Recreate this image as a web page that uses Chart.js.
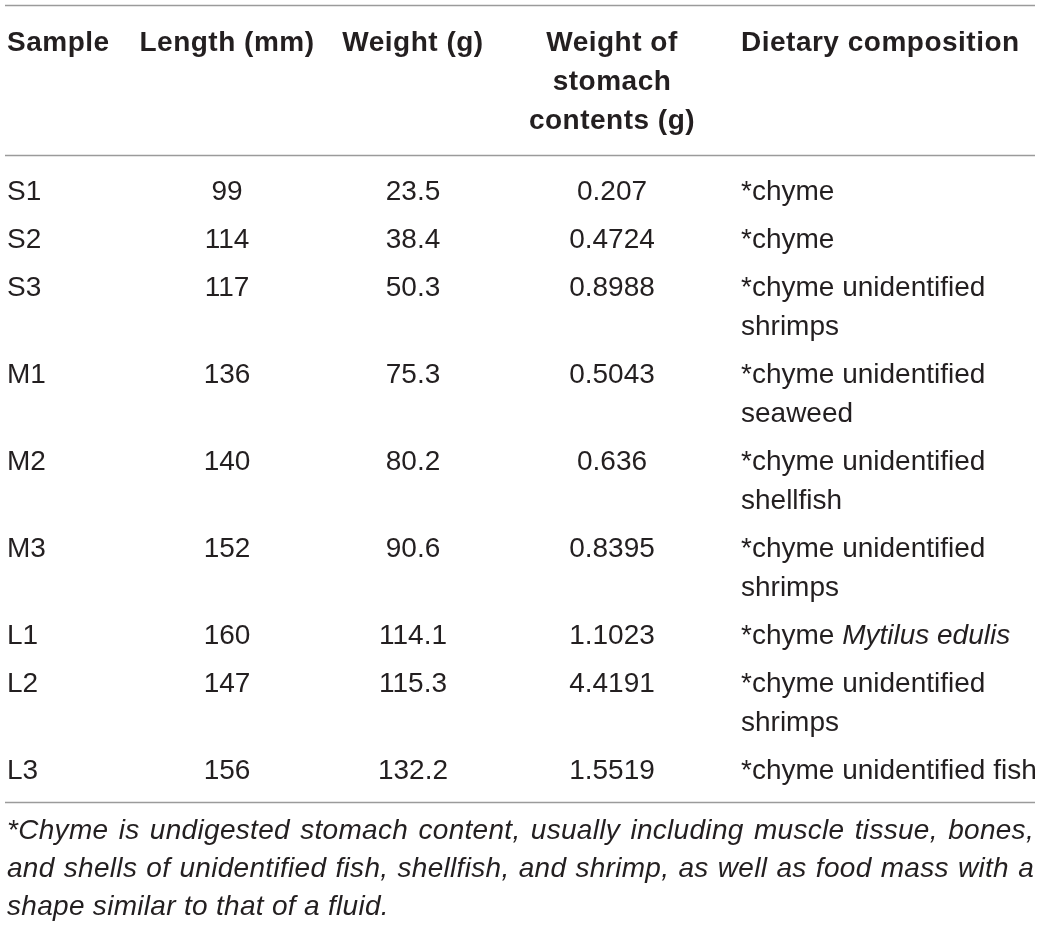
<!DOCTYPE html>
<html>
<head>
<meta charset="utf-8">
<script src="https://cdn.jsdelivr.net/npm/chart.js@4/dist/chart.umd.min.js"></script>
<style>
html,body{margin:0;padding:0;background:#fff;}
#wrap{width:1040px;height:926px;}
</style>
</head>
<body>
<div id="wrap"><canvas id="c" width="1040" height="926"></canvas></div>
<script>
// ---- DATA ----
const headers = [["Sample"], ["Length (mm)"], ["Weight (g)"], ["Weight of", "stomach", "contents (g)"], ["Dietary composition"]];
const samples = ["S1", "S2", "S3", "M1", "M2", "M3", "L1", "L2", "L3"];
const lengthsMm = [99, 114, 117, 136, 140, 152, 160, 147, 156];
const weightsG = [23.5, 38.4, 50.3, 75.3, 80.2, 90.6, 114.1, 115.3, 132.2];
const stomachG = [0.207, 0.4724, 0.8988, 0.5043, 0.636, 0.8395, 1.1023, 4.4191, 1.5519];
const diets = [
  ["*chyme"],
  ["*chyme"],
  ["*chyme unidentified", "shrimps"],
  ["*chyme unidentified", "seaweed"],
  ["*chyme unidentified", "shellfish"],
  ["*chyme unidentified", "shrimps"],
  ["*chyme _Mytilus edulis_"],
  ["*chyme unidentified", "shrimps"],
  ["*chyme unidentified fish"]
];
const footnoteLines = [
  "*Chyme is undigested stomach content, usually including muscle tissue, bones,",
  "and shells of unidentified fish, shellfish, and shrimp, as well as food mass with a",
  "shape similar to that of a fluid."
];

// ---- LAYOUT ----
const W = 1040, H = 926;
const colX = [7, 227, 413, 612, 741];
const colAlign = ["left", "center", "center", "center", "left"];
const headBase = 51, lineGap = 39, rowGap = 48, firstRowBase = 200;
const ruleYs = [5, 155, 802];
const ruleX = [5, 1035];
const footBase = 839, footGap = 38, footX = [7, 1034];
const FONT = '"Liberation Sans", Arial, Helvetica, sans-serif';
const FS = 28;
const BOLD_SPACING = "0.5px", BODY_SPACING = "0px", FOOT_SPACING = "0.3px";
const TEXT = "#231f20";

// row baselines computed from wrap counts
const rowBase = [];
{
  let y = firstRowBase;
  for (let i = 0; i < samples.length; i++) {
    rowBase.push(y);
    y += rowGap + (diets[i].length - 1) * lineGap;
  }
}

const columns = [
  samples.map(String),
  lengthsMm.map(String),
  weightsG.map(v => v.toFixed(1)),
  stomachG.map(String),
  diets.map(d => d[0])
];

const datasets = columns.map((col, c) => ({
  label: headers[c].join(" "),
  data: col.map((_, r) => ({ x: colX[c], y: rowBase[r] })),
  pointRadius: 0,
  pointHoverRadius: 0,
  showLine: false
}));
datasets.push({
  label: "headers",
  data: headers.map((_, c) => ({ x: colX[c], y: headBase })),
  pointRadius: 0, pointHoverRadius: 0, showLine: false
});

function setSpacing(ctx, s) { try { ctx.letterSpacing = s; } catch (e) {} }

function drawSegments(ctx, text, x, y, align, bold) {
  setSpacing(ctx, bold ? BOLD_SPACING : BODY_SPACING);
  const parts = text.split("_");
  const fonts = parts.map((_, i) => (i % 2 === 1 ? "italic " : "") + (bold ? "bold " : "") + FS + "px " + FONT);
  let total = 0;
  const widths = parts.map((p, i) => { ctx.font = fonts[i]; const w = ctx.measureText(p).width; total += w; return w; });
  let cx = align === "center" ? x - total / 2 : x;
  ctx.textAlign = "left";
  parts.forEach((p, i) => { ctx.font = fonts[i]; ctx.fillText(p, cx, y); cx += widths[i]; });
}

const tablePlugin = {
  id: "table",
  afterDatasetsDraw(chart) {
    const ctx = chart.ctx;
    const xs = chart.scales.x, ys = chart.scales.y;
    ctx.save();
    ctx.fillStyle = TEXT;
    ctx.textBaseline = "alphabetic";
    ctx.strokeStyle = "#9b9b9b";
    ctx.lineWidth = 1.5;
    ruleYs.forEach(v => {
      const py = Math.round(ys.getPixelForValue(v)) + 0.5;
      ctx.beginPath();
      ctx.moveTo(xs.getPixelForValue(ruleX[0]), py);
      ctx.lineTo(xs.getPixelForValue(ruleX[1]), py);
      ctx.stroke();
    });
    const lg = ys.getPixelForValue(lineGap) - ys.getPixelForValue(0);
    const hMeta = chart.getDatasetMeta(columns.length);
    headers.forEach((lines, c) => {
      const el = hMeta.data[c];
      lines.forEach((ln, k) => drawSegments(ctx, ln, el.x, el.y + k * lg, colAlign[c], true));
    });
    columns.forEach((col, c) => {
      const meta = chart.getDatasetMeta(c);
      col.forEach((txt, r) => {
        const el = meta.data[r];
        if (c === 4) {
          diets[r].forEach((ln, k) => drawSegments(ctx, ln, el.x, el.y + k * lg, "left", false));
        } else {
          drawSegments(ctx, txt, el.x, el.y, colAlign[c], false);
        }
      });
    });
    setSpacing(ctx, FOOT_SPACING);
    ctx.font = "italic " + FS + "px " + FONT;
    const left = xs.getPixelForValue(footX[0]), right = xs.getPixelForValue(footX[1]);
    footnoteLines.forEach((ln, k) => {
      const y = ys.getPixelForValue(footBase + k * footGap);
      ctx.textAlign = "left";
      if (k < footnoteLines.length - 1) {
        const words = ln.split(" ");
        const ws = words.map(w => ctx.measureText(w).width);
        const sum = ws.reduce((a, b) => a + b, 0);
        const gap = (right - left - sum) / (words.length - 1);
        let x = left;
        words.forEach((w, i) => { ctx.fillText(w, x, y); x += ws[i] + gap; });
      } else {
        ctx.fillText(ln, left, y);
      }
    });
    ctx.restore();
  }
};

new Chart(document.getElementById("c"), {
  type: "scatter",
  data: { datasets },
  options: {
    responsive: false,
    animation: false,
    devicePixelRatio: 1,
    layout: { padding: 0 },
    plugins: { legend: { display: false }, tooltip: { enabled: false } },
    scales: {
      x: { type: "linear", min: 0, max: W, display: false },
      y: { type: "linear", min: 0, max: H, reverse: true, display: false }
    },
    events: []
  },
  plugins: [tablePlugin]
});
</script>
</body>
</html>
